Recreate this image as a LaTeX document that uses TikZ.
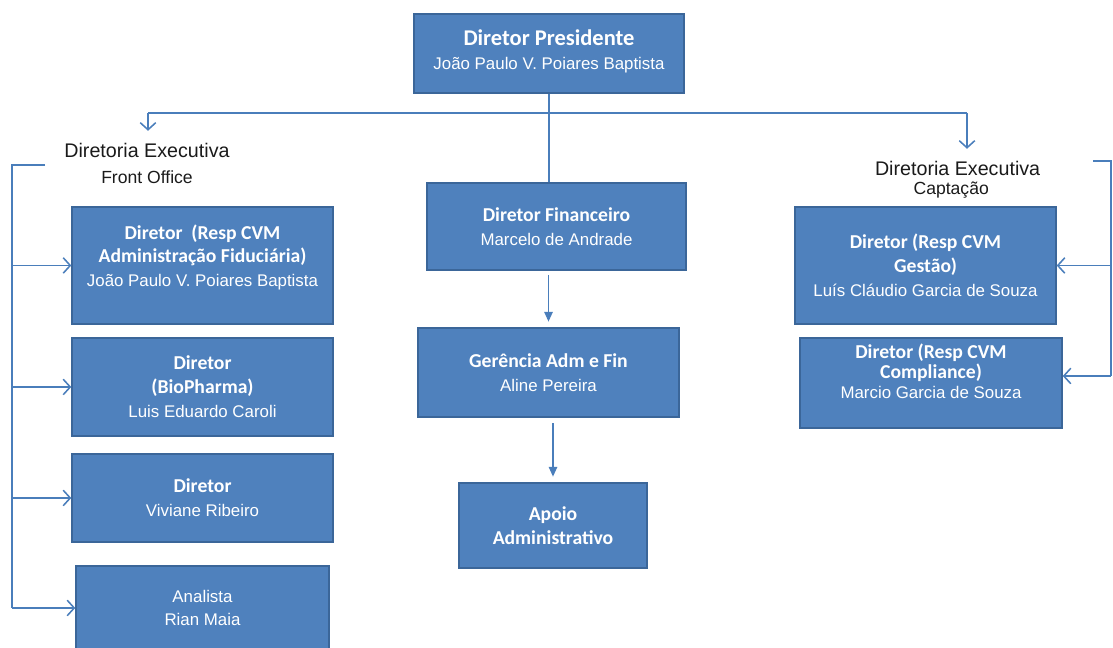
\documentclass[tikz,border=0pt]{standalone}
\usepackage{fontspec}
\setmainfont{Liberation Sans}
\newfontfamily\calibri{Carlito}
\usepackage{tikz}
\usetikzlibrary{arrows.meta,positioning}

\definecolor{boxblue}{HTML}{4F81BD}
\definecolor{boxline}{HTML}{3B6699}
\definecolor{linkblue}{HTML}{4A7EBB}
\definecolor{headgray}{HTML}{1A1A1A}

\newcommand{\hd}[1]{{\calibri\bfseries\fontsize{14}{17}\selectfont #1}}

\tikzset{
  box/.style={draw=boxline, fill=boxblue, line width=1pt, text=white, align=center,
              font=\fontsize{12}{17}\selectfont, inner sep=2pt},
  head/.style={text=headgray, font=\fontsize{14}{17}\selectfont},
  subhead/.style={text=headgray, font=\fontsize{12.5}{15}\selectfont},
  conn/.style={draw=linkblue, line width=1.1pt},
  spine/.style={draw=linkblue, line width=1.5pt},
  down/.style={conn, -{Triangle[length=7pt,width=6pt]}}
}

\begin{document}
\begin{tikzpicture}[>={Straight Barb[length=5pt,width=11pt]}, node distance=1cm]
        \useasboundingbox (0,0) rectangle (27.825,16.2);

        % centre column
        \node[box, minimum width=6.75cm, minimum height=1.975cm] (pres) at (13.725,14.8625)
              {{\calibri\bfseries\fontsize{16}{19}\selectfont Diretor Presidente}\\João Paulo V. Poiares Baptista\\[-12pt]\mbox{}};
        \node[box, minimum width=6.475cm, minimum height=2.175cm] (fin)
              [node distance=4.325cm, below of=pres, xshift=0.1875cm]
              {\hd{Diretor Financeiro}\\Marcelo de Andrade};
        \node[box, minimum width=6.525cm, minimum height=2.225cm] (ger)
              [node distance=3.65cm, below of=fin, xshift=-0.2cm]
              {\hd{Gerência Adm e Fin}\\Aline Pereira};
        \node[box, minimum width=4.7cm, minimum height=2.125cm] (apoio)
              [node distance=3.825cm, below of=ger, xshift=0.1125cm]
              {\hd{Apoio}\\\hd{Administrativo}};

        % front office
        \node[head] (dirfo) at (3.675,12.45) {Diretoria Executiva};
        \node[subhead] (fo) [node distance=0.675cm, below of=dirfo] {Front Office};
        \node[box, minimum width=6.525cm, minimum height=2.925cm] (L1) at (5.0625,9.5625)
              {\hd{Diretor \ (Resp CVM}\\\hd{Administração Fiduciária)}\\João Paulo V. Poiares Baptista\\[-3pt]\mbox{}};
        \node[box, minimum width=6.525cm, minimum height=2.45cm] (L2)
              [node distance=3.0375cm, below of=L1]
              {\hd{Diretor}\\\hd{(BioPharma)}\\Luis Eduardo Caroli};
        \node[box, minimum width=6.525cm, minimum height=2.2cm] (L3)
              [node distance=2.775cm, below of=L2]
              {\hd{Diretor}\\Viviane Ribeiro};
        \node[box, minimum width=6.325cm, minimum height=2.1cm] (L4)
              [node distance=2.75cm, below of=L3]
              {Analista\\Rian Maia};

        % captacao
        \node[head] (dircap) at (23.94,12.0) {Diretoria Executiva};
        \node[subhead] (cap) [node distance=0.55cm, below of=dircap, xshift=-0.16cm] {Captação};
        \node[box, minimum width=6.525cm, minimum height=2.925cm] (R1) at (23.1375,9.5625)
              {\hd{Diretor (Resp CVM}\\\hd{Gestão)}\\Luís Cláudio Garcia de Souza};
        \node[box, minimum width=6.55cm, minimum height=2.25cm, font=\fontsize{12}{14}\selectfont] (R2)
              [node distance=2.9375cm, below of=R1, xshift=0.1375cm]
              {\hd{Diretor (Resp CVM}\\\hd{Compliance)}\\Marcio Garcia de Souza\\[3pt]\mbox{}};

        % top connectors
        \coordinate (hl) at (3.7,13.375);
        \coordinate (hr) at (24.175,13.375);
        \draw[conn] (pres.south) -- (pres.south |- fin.north);
        \draw[conn] (hl) -- (hr);
        \draw[conn,->,shorten >=5pt] (hl) -- (hl |- dirfo.north);
        \draw[conn,->,shorten >=5pt] (hr) -- (hr |- dircap.north);

        \path
        (ger.north |- fin.south) edge[down, shorten <=3pt, shorten >=4pt] (ger.north)
        (apoio.north |- ger.south) edge[down, shorten <=4pt, shorten >=4pt] (apoio.north);

        % left bracket
        \coordinate (lbtop) at (1.125,12.075);
        \coordinate (lbcor) at (0.3,12.075);
        \draw[spine] (lbtop) -- (lbcor) -- (lbcor |- L4.west);
        \foreach \b in {L1,L2,L3,L4}
            \draw[conn,->] (lbcor |- \b.west) -- (\b.west);

        % right bracket
        \coordinate (rbtop) at (27.325,12.175);
        \coordinate (rbcor) at (27.775,12.175);
        \coordinate (r2in) at ([yshift=0.175cm]R2.east);
        \draw[spine] (rbtop) -- (rbcor) -- (rbcor |- r2in);
        \draw[conn,->] (rbcor |- R1.east) -- (R1.east);
        \draw[conn,->] (rbcor |- r2in) -- (r2in);
\end{tikzpicture}
\end{document}
